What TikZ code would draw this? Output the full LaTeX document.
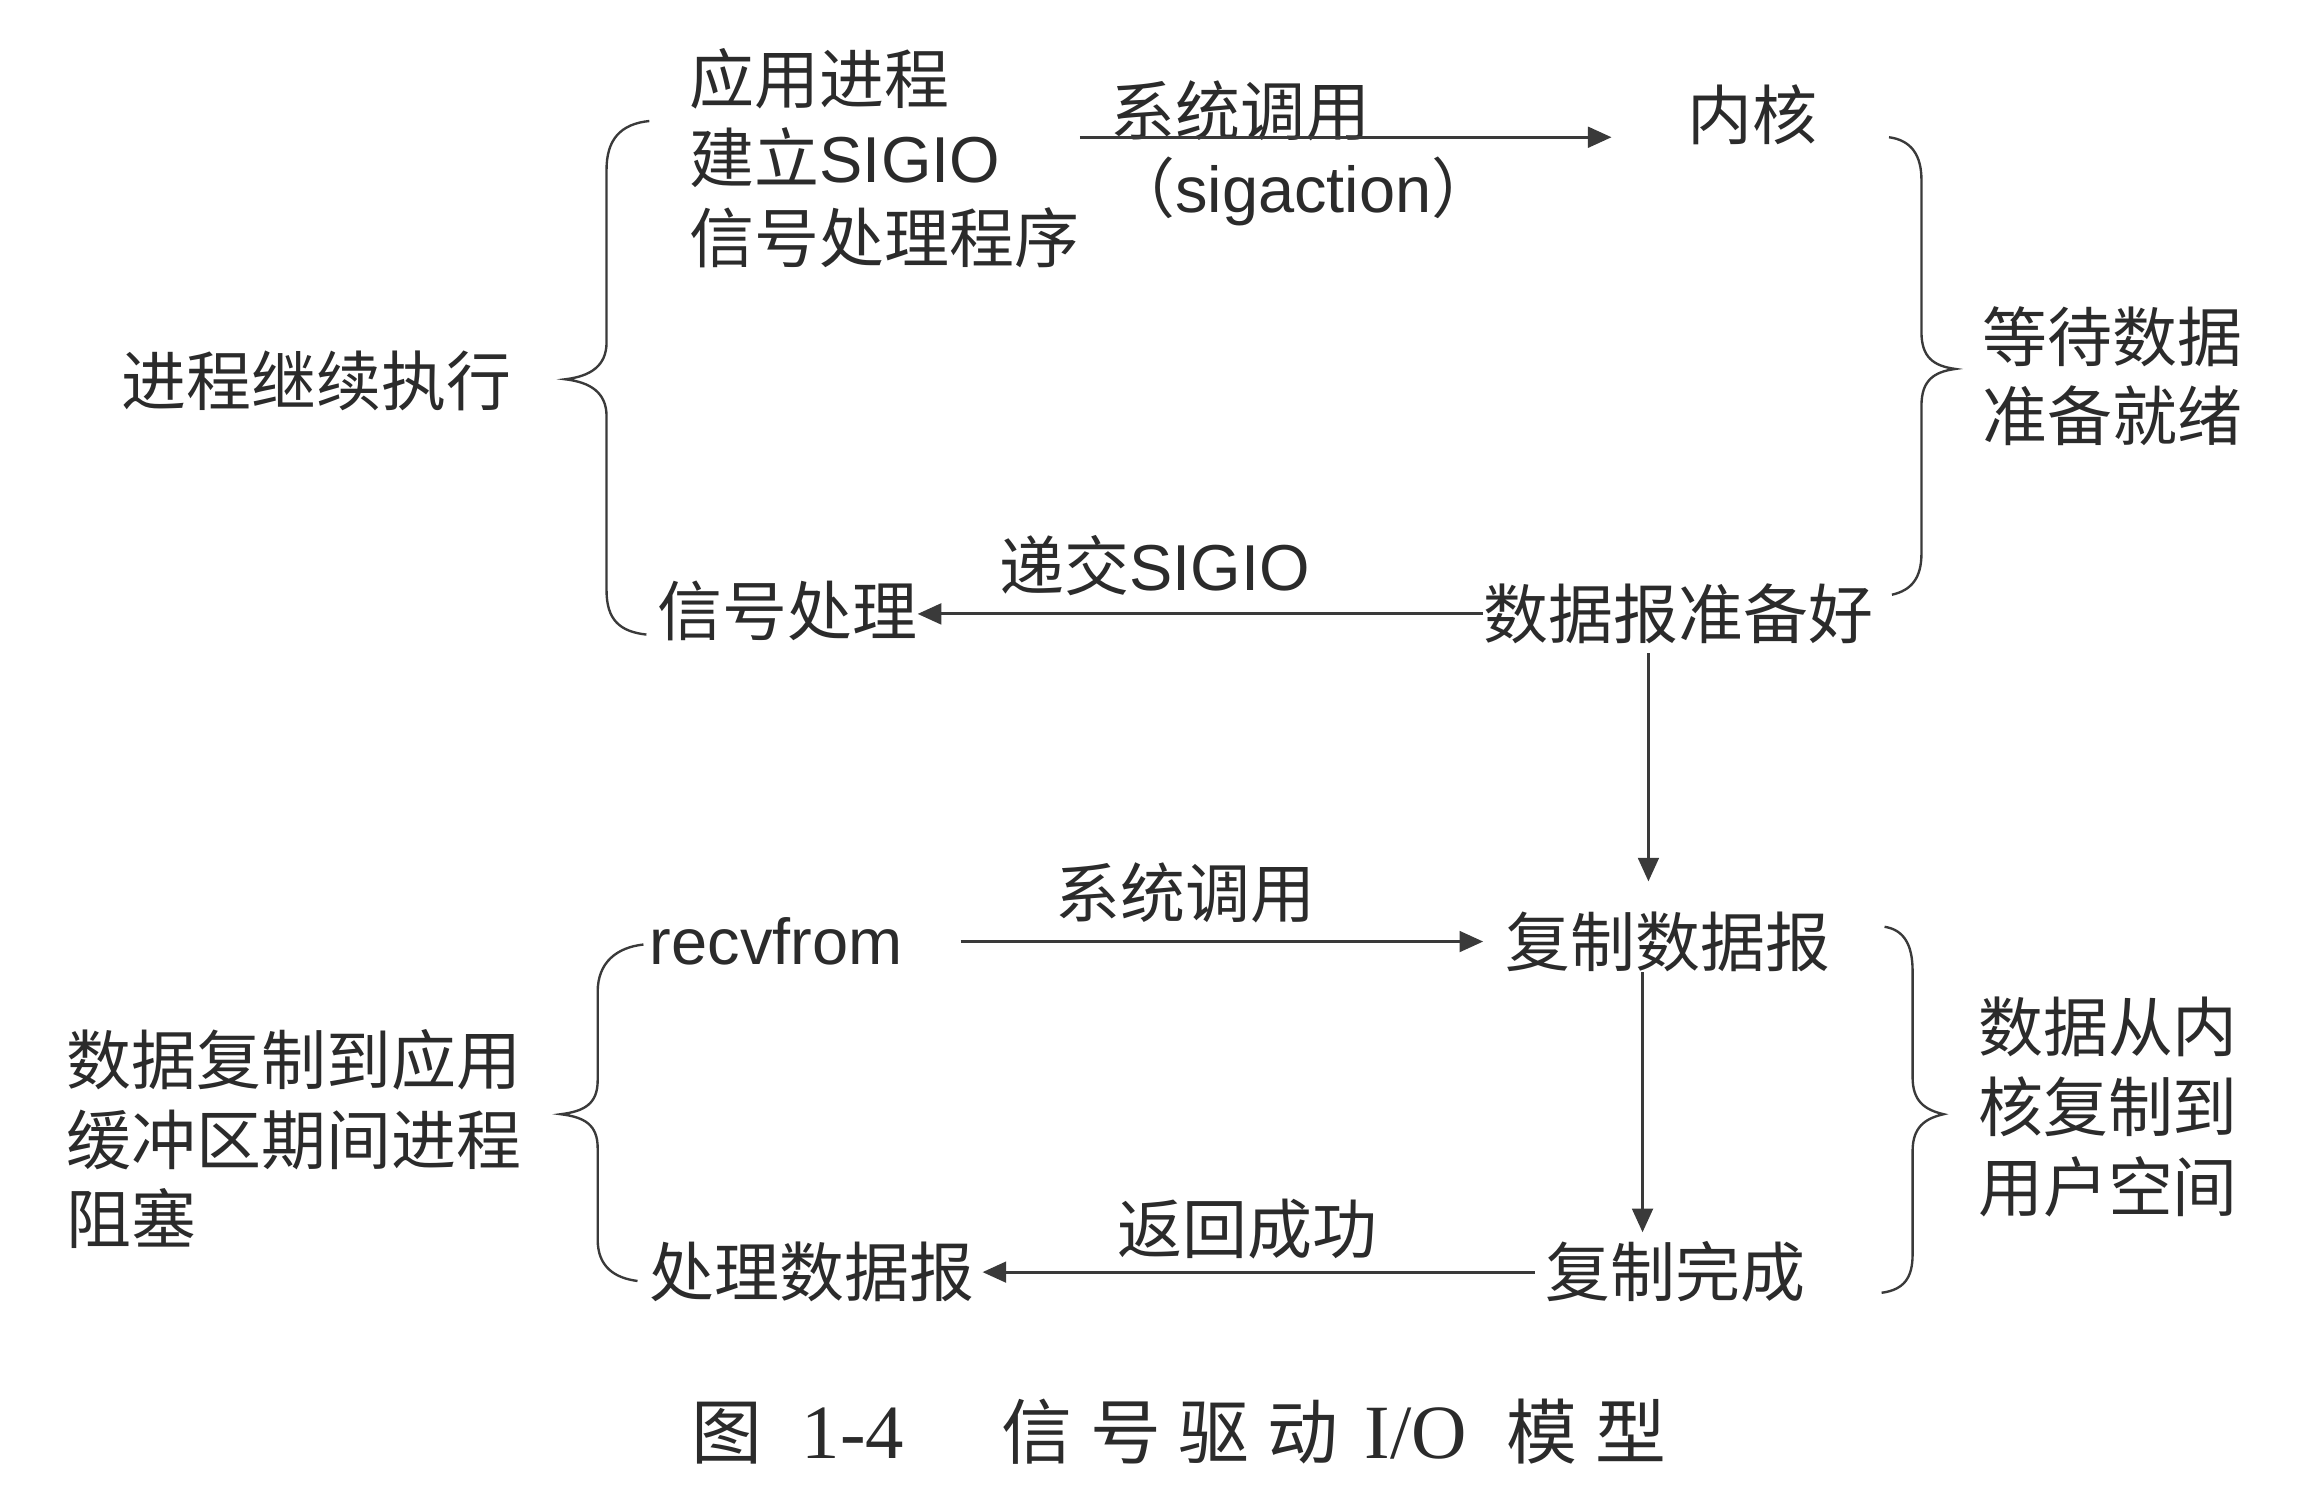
\documentclass[tikz,border=0pt]{standalone}
\usepackage{fontspec}
\setmainfont{Noto Sans CJK SC}
\newfontfamily\lat{Liberation Sans}
\newfontfamily\latserif{Liberation Serif}
\usetikzlibrary{arrows.meta,calc}
\definecolor{ink}{HTML}{2B2B2B}
\definecolor{ln}{HTML}{3A3A3A}
\begin{document}
\begin{tikzpicture}[x=0.5pt,y=-0.5pt,
  txt/.style={inner sep=0pt, anchor=west, text=ink, font=\fontsize{22}{27}\selectfont, align=left},
  arr/.style={draw=ln, line width=1pt, -{Triangle[length=8pt,width=7pt]}},
  brc/.style={draw=ln, line width=0.8pt}]
\useasboundingbox[fill=white] (0,0) rectangle (1568,1006);

% ---- top section ----
\node[txt] (app) at (467,107) {应用进程\\建立{\lat SIGIO}\\信号处理程序};
\node[txt] (sys1) at (752,75) {系统调用};
\node[txt] (sig) at (752,130) {（{\lat sigaction}）};
\node[txt] (kern) at (1143,78) {内核};
\node[txt] (wait) at (1343,255) {等待数据\\准备就绪};
\node[txt] (cont) at (82,258) {进程继续执行};
\node[txt] (sigh) at (445,414) {信号处理};
\node[txt] (deliv) at (677,383) {递交{\lat SIGIO}};
\node[txt] (ready) at (1005,416) {数据报准备好};

\path (kern.west) ++(-51,15) coordinate (a1e);
\coordinate (a1s) at (app.east |- a1e);
\draw[arr] (a1s) -- (a1e);
\draw[arr] (ready.west) -- (sigh.east |- ready.west);

\coordinate (vx1) at (1117,0);
\coordinate (vx2) at (1113,0);

% ---- bottom section ----
\node[txt] (recv) at (440,638) {{\lat recvfrom}};
\node[txt] (sys2) at (715,605) {系统调用};
\node[txt] (copy) at (1020,638) {复制数据报};
\node[txt] (done) at (1047,862) {复制完成};
\node[txt] (ret) at (757,833) {返回成功};
\node[txt] (proc) at (440,862) {处理数据报};
\node[txt] (blk) at (45,772) {数据复制到应用\\缓冲区期间进程\\阻塞};
\node[txt] (kcopy) at (1340,750) {数据从内\\核复制到\\用户空间};

\draw[arr, shorten <=3pt, shorten >=10pt] (ready.south -| vx1) -- (copy.north -| vx1);
\draw[arr, shorten <=19.5pt, shorten >=7.5pt] (recv.east) -- (copy.west |- recv.east);
\draw[arr, shorten >=3pt] (copy.south -| vx2) -- (done.north -| vx2);
\draw[arr, shorten <=3.5pt, shorten >=2.5pt] (done.west) -- (proc.east |- done.west);

% ---- braces ----
\draw[brc] (440,82) .. controls (420,84) and (411,95) .. (411,115) -- (411,232)
  .. controls (411,248) and (400,255) .. (383,257)
  .. controls (400,259) and (411,266) .. (411,282) -- (411,400)
  .. controls (411,420) and (420,428) .. (438,430);
\draw[brc] (1280,93) .. controls (1295,95) and (1302,105) .. (1302,122) -- (1302,225)
  .. controls (1302,242) and (1310,248) .. (1325,250)
  .. controls (1310,252) and (1302,258) .. (1302,275) -- (1302,375)
  .. controls (1302,392) and (1295,400) .. (1282,403);
\draw[brc] (436,640) .. controls (418,642) and (405,652) .. (405,672) -- (405,732)
  .. controls (405,748) and (396,753) .. (380,755)
  .. controls (396,757) and (405,762) .. (405,778) -- (405,840)
  .. controls (405,858) and (416,866) .. (432,868);
\draw[brc] (1277,628) .. controls (1290,630) and (1296,640) .. (1296,658) -- (1296,730)
  .. controls (1296,746) and (1304,752) .. (1317,755)
  .. controls (1304,758) and (1296,764) .. (1296,780) -- (1296,850)
  .. controls (1296,866) and (1290,874) .. (1275,876);

% ---- caption ----
\node[txt, font=\fontsize{24}{28}\selectfont] (cap) at (468,970)
  {图\hspace{13.5pt}{\latserif\fontsize{26}{28}\selectfont 1-4}\hspace{33pt}信\hspace{6pt}号\hspace{6pt}驱\hspace{6pt}动\hspace{9pt}{\latserif\fontsize{26}{28}\selectfont I/O}\hspace{13.5pt}模\hspace{6pt}型};
\end{tikzpicture}
\end{document}
